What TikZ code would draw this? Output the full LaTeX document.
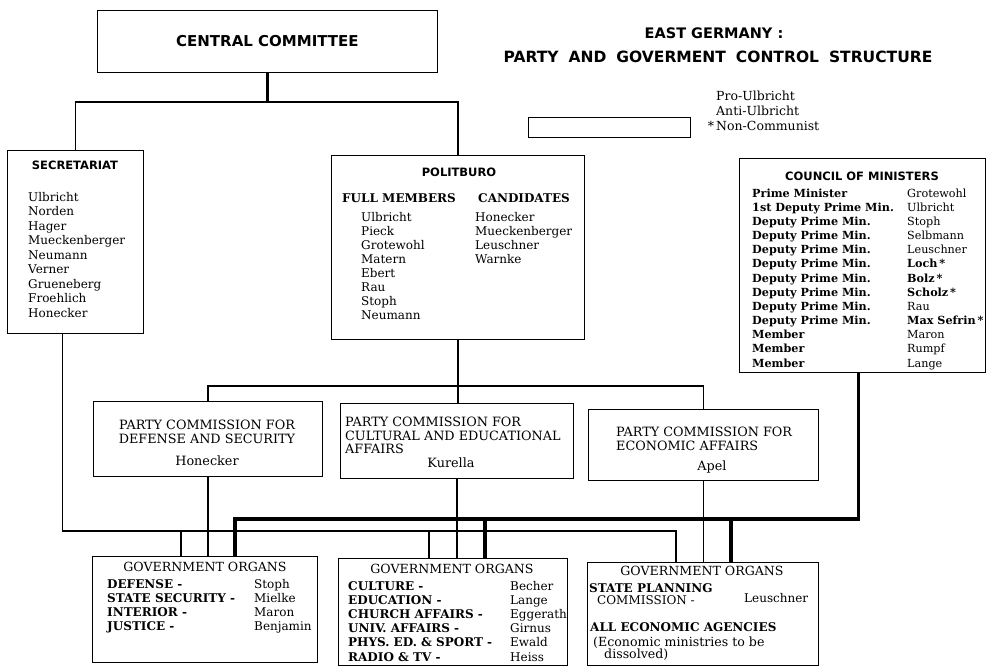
\documentclass[tikz,border=0pt]{standalone}
\usepackage{fontspec}
\setmainfont{DejaVu Serif}
\setsansfont{DejaVu Sans}

\begin{document}
\begin{tikzpicture}[x=1pt,y=-1pt,
 box/.style={draw,line width=.8pt,inner sep=0pt,anchor=north west},
 head/.style={font=\sffamily\bfseries\fontsize{11.5}{13}\selectfont,inner sep=0pt},
 txt/.style={font=\fontsize{12}{14.2}\selectfont,inner sep=0pt},
 comm/.style={font=\fontsize{12.8}{13.5}\selectfont,inner sep=0pt},
 link/.style={line width=1.8pt},
 heavy/.style={line width=3.8pt}]
\useasboundingbox (0,0) rectangle (987,667);
\node[box,minimum width=340,minimum height=62] (cc) at (97,10) {};
\node[head,font=\sffamily\bfseries\fontsize{15}{18}\selectfont] (cctext) at (cc.center) {CENTRAL COMMITTEE};
\node[head,font=\sffamily\bfseries\fontsize{14.5}{18}\selectfont] (title) at (714,33) {EAST GERMANY :};
\node[head,font=\sffamily\bfseries\fontsize{15.5}{18}\selectfont] (subtitle) at (718,57) {\spaceskip=10pt\relax PARTY AND GOVERMENT CONTROL STRUCTURE};
\node[box,minimum width=162,minimum height=20] (key) at (528,117) {};
\node[txt,font=\fontsize{12.5}{15}\selectfont,align=left,anchor=north west] (keytext) at (716,91) {Pro-Ulbricht\\Anti-Ulbricht\\\llap{*\,}Non-Communist};

\node[box,minimum width=136,minimum height=183] (secr) at (7,150) {};
\node[head] (secrhead) at (75,165) {SECRETARIAT};
\node[txt,font=\fontsize{12}{14.5}\selectfont,anchor=north west] (secrlist) at (28,191) {\begin{tabular}{@{}l@{}}Ulbricht\\Norden\\Hager\\Mueckenberger\\Neumann\\Verner\\Grueneberg\\Froehlich\\Honecker\end{tabular}};

\node[box,minimum width=253,minimum height=184] (polit) at (331,155) {};
\node[head] (polithead) at (459,172) {POLITBURO};
\node[txt,anchor=base west] (full) at (342,202) {\bfseries FULL MEMBERS};
\node[txt,anchor=base west] (cand) at (478,202) {\bfseries CANDIDATES};
\node[txt,font=\fontsize{12}{14}\selectfont,anchor=north west] (politlist) at (361,211) {\begin{tabular}{@{}p{114pt}@{}l@{}}Ulbricht&Honecker\\Pieck&Mueckenberger\\Grotewohl&Leuschner\\Matern&Warnke\\Ebert&\\Rau&\\Stoph&\\Neumann&\end{tabular}};

\node[box,minimum width=246,minimum height=214] (council) at (739,158) {};
\node[head] (councilhead) at (862,176) {COUNCIL OF MINISTERS};
\node[txt,font=\fontsize{11.2}{14.17}\selectfont,anchor=north west] (councillist) at (752,187) {\begin{tabular}{@{}p{155pt}@{}l@{}}\textbf{Prime Minister}&Grotewohl\\\textbf{1st Deputy Prime Min.}&Ulbricht\\\textbf{Deputy Prime Min.}&Stoph\\\textbf{Deputy Prime Min.}&Selbmann\\\textbf{Deputy Prime Min.}&Leuschner\\\textbf{Deputy Prime Min.}&\textbf{Loch\,*}\\\textbf{Deputy Prime Min.}&\textbf{Bolz\,*}\\\textbf{Deputy Prime Min.}&\textbf{Scholz\,*}\\\textbf{Deputy Prime Min.}&Rau\\\textbf{Deputy Prime Min.}&\textbf{Max Sefrin\,*}\\\textbf{Member}&Maron\\\textbf{Member}&Rumpf\\\textbf{Member}&Lange\end{tabular}};

\node[box,minimum width=229,minimum height=75] (comdef) at (93,401) {};
\node[comm,align=center,anchor=north,font=\fontsize{12.8}{14.2}\selectfont] (comdeftext) at (207,420) {PARTY COMMISSION FOR\\DEFENSE AND SECURITY\\[7.4pt]Honecker};
\node[box,minimum width=233,minimum height=75] (comcult) at (340,403) {};
\node[comm,align=left,anchor=north west] (comculttext) at (345,417.2) {PARTY COMMISSION FOR\\CULTURAL AND EDUCATIONAL\\AFFAIRS};
\node[comm] (kurella) at (451,463) {Kurella};
\node[box,minimum width=230,minimum height=71] (comecon) at (588,409) {};
\node[comm,align=left,anchor=north west] (comecontext) at (616,427.2) {PARTY COMMISSION FOR\\ECONOMIC AFFAIRS};
\node[comm] (apel) at (712,467) {Apel};

\node[box,minimum width=225,minimum height=106] (govdef) at (92,556) {};
\node[txt,font=\fontsize{12.6}{14}\selectfont] (govdefhead) at (205,567) {GOVERNMENT ORGANS};
\node[txt,font=\fontsize{12}{14}\selectfont,anchor=north west] (govdeflist) at (107,578) {\begin{tabular}{@{}p{147pt}@{}l@{}}\textbf{DEFENSE -}&Stoph\\\textbf{STATE SECURITY -}&Mielke\\\textbf{INTERIOR -}&Maron\\\textbf{JUSTICE -}&Benjamin\end{tabular}};
\node[box,minimum width=229,minimum height=107] (govcult) at (338,558) {};
\node[txt,font=\fontsize{12.6}{14}\selectfont] (govculthead) at (452,569) {GOVERNMENT ORGANS};
\node[txt,anchor=north west] (govcultlist) at (348,580) {\begin{tabular}{@{}p{162pt}@{}l@{}}\textbf{CULTURE -}&Becher\\\textbf{EDUCATION -}&Lange\\\textbf{CHURCH AFFAIRS -}&Eggerath\\\textbf{UNIV. AFFAIRS -}&Girnus\\\textbf{PHYS. ED. \& SPORT -}&Ewald\\\textbf{RADIO \& TV -}&Heiss\end{tabular}};
\node[box,minimum width=231,minimum height=103] (govecon) at (587,562) {};
\node[txt,font=\fontsize{12.6}{14}\selectfont] (govecontext) at (702,571) {GOVERNMENT ORGANS};
\node[txt,font=\fontsize{12}{11.5}\selectfont,align=left,anchor=north west] (planning) at (589,583.5) {\bfseries STATE PLANNING\\\hspace*{8pt}COMMISSION -};
\node[txt,anchor=west] (leuschner) at (744,598) {Leuschner};
\node[txt,anchor=west] (agencies) at (590,627) {\bfseries ALL ECONOMIC AGENCIES};
\node[txt,font=\fontsize{12.6}{12}\selectfont,align=left,anchor=north west] (ministries) at (593,636.5) {(Economic ministries to be\\\hspace*{11pt}dissolved)};

\coordinate (top) at (cc.south |- 0,102);
\coordinate (mid) at (polit.south |- 0,386);
\draw[link,line width=2.2pt] (cc.south) -- (top);
\draw[link] (secr.north) |- (top) -| (polit.north);
\draw[link] (polit.south) -- (mid) -- (mid |- comcult.north);
\draw[link] (comdef.north) |- (mid) -| (comecon.north);
\draw[link] (comdef.south) -- (comdef.south |- govdef.north);
\draw[link] (comcult.south) -- (comcult.south |- govcult.north);
\draw[link] (comecon.south) -- (comecon.south |- govecon.north);
\coordinate (s1) at ([xshift=-24]govdef.north);\coordinate (s2) at ([xshift=-24]govcult.north);\coordinate (s3) at ([xshift=-27]govecon.north);
\coordinate (c1) at ([xshift=30]govdef.north);\coordinate (c2) at ([xshift=32]govcult.north);\coordinate (c3) at ([xshift=28]govecon.north);
\draw[link] ([xshift=-13]secr.south) |- (s3 |- 0,531) -- (s3);
\foreach \p in {s1,s2}{\draw[link] (\p |- 0,531) -- (\p);}
\draw[heavy] ([xshift=-4]council.south) |- (c1 |- 0,519) -- (c1);
\foreach \p in {c2,c3}{\draw[heavy] (\p |- 0,519) -- (\p);}
\end{tikzpicture}
\end{document}
